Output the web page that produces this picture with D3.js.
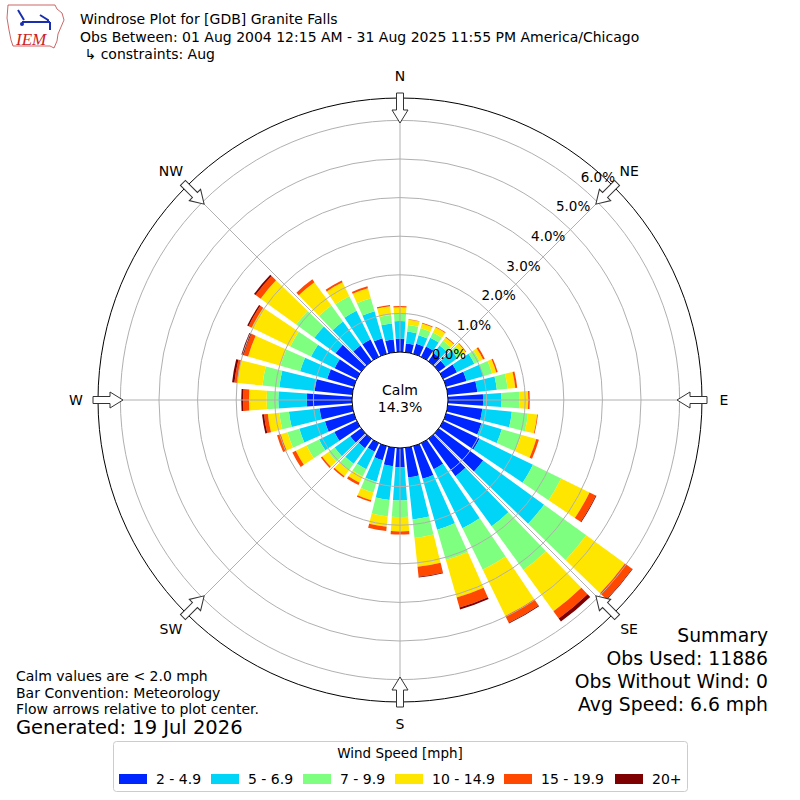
<!DOCTYPE html>
<html>
<head>
<meta charset="utf-8">
<script src="https://cdn.jsdelivr.net/npm/d3@7"></script>
<style>
  body { margin: 0; background: #fff; }
  svg { font-family: "DejaVu Sans", sans-serif; }
</style>
</head>
<body>
<div id="chart"></div>
<script>
// direction bins (degrees, meteorological)
var directions = [0, 10, 20, 30, 40, 50, 60, 70, 80, 90, 100, 110, 120, 130, 140, 150, 160, 170,
                  180, 190, 200, 210, 220, 230, 240, 250, 260, 270, 280, 290, 300, 310, 320, 330, 340, 350];

var speedBins = ["2 - 4.9", "5 - 6.9", "7 - 9.9", "10 - 14.9", "15 - 19.9", "20+"];
var binColors = ["#0026ff", "#00d5f7", "#7fff7f", "#ffe600", "#ff4800", "#7f0000"];

// frequency (%) per direction for each speed bin
var s2to5   = [.35,.23,.27,.30,.25,.22,.40,.55,.77,.91,.90,.95,1.05,1.42,1.20,.75,.88,.77,.50,.48,.38,.25,.30,.35,.65,.78,.85,1.17,.98,.72,.64,.82,.50,.50,.42,.33];
var s5to7   = [.45,.31,.23,.25,.25,.38,.50,.45,.51,.48,.77,.55,1.54,1.95,1.60,1.70,1.37,1.10,.86,.88,.58,.50,.50,.50,.44,.69,.80,.74,.92,.73,.68,.68,.77,.83,.73,.42];
var s7to10  = [.19,.17,.19,.15,.15,.15,.15,.24,.28,.46,.42,.52,.81,1.35,1.40,1.20,.82,.48,.43,.43,.29,.21,.20,.20,.36,.32,.25,.30,.44,.53,.60,.58,.51,.42,.35,.22];
var s10to15 = [.17,.14,.13,.15,.11,.11,.10,.11,.20,.23,.24,.41,.82,1.24,1.32,1.33,1.01,.75,.37,.27,.21,.18,.20,.20,.31,.18,.30,.46,.66,.87,1.11,1.14,.75,.40,.27,.23];
var s15to20 = [.03,.01,.02,.02,.02,.02,.05,.04,.05,.04,.02,.07,.18,.23,.23,.20,.27,.26,.08,.11,.04,.07,.04,.04,.10,.10,.10,.15,.07,.12,.09,.16,.09,.05,.05,.03];
var s20plus = [0,0,0,0,0,0,0,0,0,0,0,0,.02,.02,.10,.02,.05,.02,0,0,0,0,0,0,0,0,.05,.05,.06,.06,.04,.05,0,0,0,0];

var ringTicks = [0, 1, 2, 3, 4, 5, 6];
var compass = ["N", "NE", "E", "SE", "S", "SW", "W", "NW"];
var calmPct = "14.3%";

var width = 800, height = 800;
var cx = 400, cy = 400;

var svg = d3.select("#chart")
  .append("svg")
    .attr("width", width)
    .attr("height", height);

var g = svg.append("g")
    .attr("transform", "translate(" + cx + "," + cy + ")");

// radial scale: 0% sits on the calm circle
var r = d3.scaleLinear()
  .domain([0, 6.58])
  .range([48, 302]);

var rows = directions.map(function(d, i) {
  return {dir: d, b0: s2to5[i], b1: s5to7[i], b2: s7to10[i], b3: s10to15[i], b4: s15to20[i], b5: s20plus[i]};
});
var keys = ["b0", "b1", "b2", "b3", "b4", "b5"];
var stacked = d3.stack().keys(keys)(rows);

var color = d3.scaleOrdinal()
  .domain(keys)
  .range(binColors);

var rad = Math.PI / 180;
var arc = d3.arc()
  .innerRadius(function(d) { return r(d[0]); })
  .outerRadius(function(d) { return r(d[1]); })
  .startAngle(function(d) { return (d.data.dir - 4) * rad; })
  .endAngle(function(d) { return (d.data.dir + 4) * rad; });

// Bars
g.append("g")
  .selectAll("g")
  .data(stacked)
  .enter()
  .append("g")
    .attr("fill", function(d) { return color(d.key); })
  .selectAll("path")
  .data(function(d) { return d; })
  .enter()
  .append("path")
    .attr("d", arc);

// grid rings
g.append("g")
  .selectAll("circle")
  .data(ringTicks.slice(1))
  .enter()
  .append("circle")
    .attr("r", function(d) { return r(d); })
    .attr("fill", "none")
    .attr("stroke", "#b0b0b0")
    .attr("stroke-width", 1);

// radial grid lines
g.append("g")
  .selectAll("line")
  .data(compass)
  .enter()
  .append("line")
    .attr("x1", function(d, i) { return r(0) * Math.sin(i * 45 * rad); })
    .attr("y1", function(d, i) { return -r(0) * Math.cos(i * 45 * rad); })
    .attr("x2", function(d, i) { return r.range()[1] * Math.sin(i * 45 * rad); })
    .attr("y2", function(d, i) { return -r.range()[1] * Math.cos(i * 45 * rad); })
    .attr("stroke", "#b0b0b0")
    .attr("stroke-width", 1);

// outer frame
g.append("circle")
  .attr("r", r.range()[1])
  .attr("fill", "none")
  .attr("stroke", "#000")
  .attr("stroke-width", 1);

// calm circle
g.append("circle")
  .attr("r", r(0))
  .attr("fill", "#fff")
  .attr("stroke", "#000")
  .attr("stroke-width", 1);

g.append("text")
  .attr("y", -5)
  .attr("text-anchor", "middle")
  .style("font-size", "14px")
  .text("Calm");
g.append("text")
  .attr("y", 12)
  .attr("text-anchor", "middle")
  .style("font-size", "14px")
  .text(calmPct);

// ring labels along 40 deg
g.append("g")
  .selectAll("text")
  .data(ringTicks)
  .enter()
  .append("text")
    .attr("x", function(d) { return r(d) * Math.sin(40 * rad) + 1; })
    .attr("y", function(d) { return -r(d) * Math.cos(40 * rad) - 4; })
    .style("font-size", "13.5px")
    .text(function(d) { return d.toFixed(1) + "%"; });

// compass labels
g.append("g")
  .selectAll("text")
  .data(compass)
  .enter()
  .append("text")
    .attr("x", function(d, i) { return 324 * Math.sin(i * 45 * rad); })
    .attr("y", function(d, i) { return -324 * Math.cos(i * 45 * rad) + 5; })
    .attr("text-anchor", "middle")
    .style("font-size", "14px")
    .text(function(d) { return d; });

// flow arrows (hollow), pointing to center
g.append("g")
  .selectAll("path")
  .data(compass)
  .enter()
  .append("path")
    .attr("d", "M-3.5,-307 L3.5,-307 L3.5,-290 L8,-290 L0,-277 L-8,-290 L-3.5,-290 Z")
    .attr("transform", function(d, i) { return "rotate(" + (i * 45) + ")"; })
    .attr("fill", "#fff")
    .attr("stroke", "#333")
    .attr("stroke-width", 1);

// header
var logo = svg.append("g");
logo.append("path")
  .attr("d", "M8,5 L55,5 L57,9 L62,13 L64,20 L61,27 L58,34 L57,41 L54,48 L50,46 L13,46 L11,40 L9,30 L7,18 Z")
  .attr("fill", "none")
  .attr("stroke", "#c04040")
  .attr("stroke-width", 0.8);
logo.append("line")
  .attr("x1", 22).attr("y1", 22).attr("x2", 50).attr("y2", 22)
  .attr("stroke", "#1a2fb0").attr("stroke-width", 2);
logo.append("path")
  .attr("d", "M18,10 L24,20 M40,15 L48,20 L48,23 M50,22 L50,30")
  .attr("fill", "none").attr("stroke", "#1a2fb0").attr("stroke-width", 2);
logo.append("circle").attr("cx", 22).attr("cy", 24).attr("r", 2).attr("fill", "#1a2fb0");
logo.append("text")
  .attr("x", 16).attr("y", 45)
  .style("font-family", "Liberation Serif")
  .style("font-style", "italic")
  .style("font-size", "17px")
  .attr("fill", "#cc2222")
  .text("IEM");

var header = ["Windrose Plot for [GDB] Granite Falls",
              "Obs Between: 01 Aug 2004 12:15 AM - 31 Aug 2025 11:55 PM America/Chicago",
              " \u21b3 constraints: Aug"];
svg.append("g")
  .selectAll("text")
  .data(header)
  .enter()
  .append("text")
    .attr("x", 80)
    .attr("y", function(d, i) { return 24 + i * 17.5; })
    .style("font-size", "14px")
    .style("white-space", "pre")
    .attr("xml:space", "preserve")
    .text(function(d) { return d; });

// notes bottom left
var notes = ["Calm values are < 2.0 mph", "Bar Convention: Meteorology", "Flow arrows relative to plot center."];
svg.append("g")
  .selectAll("text")
  .data(notes)
  .enter()
  .append("text")
    .attr("x", 16)
    .attr("y", function(d, i) { return 681 + i * 16.5; })
    .style("font-size", "14px")
    .text(function(d) { return d; });

svg.append("text")
  .attr("x", 16)
  .attr("y", 734)
  .style("font-size", "19.5px")
  .text("Generated: 19 Jul 2026");

// summary bottom right
var summary = ["Summary", "Obs Used: 11886", "Obs Without Wind: 0", "Avg Speed: 6.6 mph"];
svg.append("g")
  .selectAll("text")
  .data(summary)
  .enter()
  .append("text")
    .attr("x", 768)
    .attr("y", function(d, i) { return 642 + i * 23; })
    .attr("text-anchor", "end")
    .style("font-size", "18.8px")
    .text(function(d) { return d; });

// legend
var legend = svg.append("g");
legend.append("rect")
  .attr("x", 113.5).attr("y", 741.5)
  .attr("width", 574).attr("height", 50)
  .attr("rx", 3)
  .attr("fill", "#fff")
  .attr("stroke", "#cccccc");
legend.append("text")
  .attr("x", 400).attr("y", 758)
  .attr("text-anchor", "middle")
  .style("font-size", "13.5px")
  .text("Wind Speed [mph]");

var legX = [119, 211, 303, 395, 504, 615];
var item = legend.selectAll(".item")
  .data(speedBins)
  .enter()
  .append("g")
    .attr("class", "item")
    .attr("transform", function(d, i) { return "translate(" + legX[i] + ",774)"; });
item.append("rect")
  .attr("width", 28).attr("height", 10)
  .attr("fill", function(d, i) { return binColors[i]; });
item.append("text")
  .attr("x", 37).attr("y", 10)
  .style("font-size", "14px")
  .text(function(d) { return d; });
</script>
</body>
</html>
